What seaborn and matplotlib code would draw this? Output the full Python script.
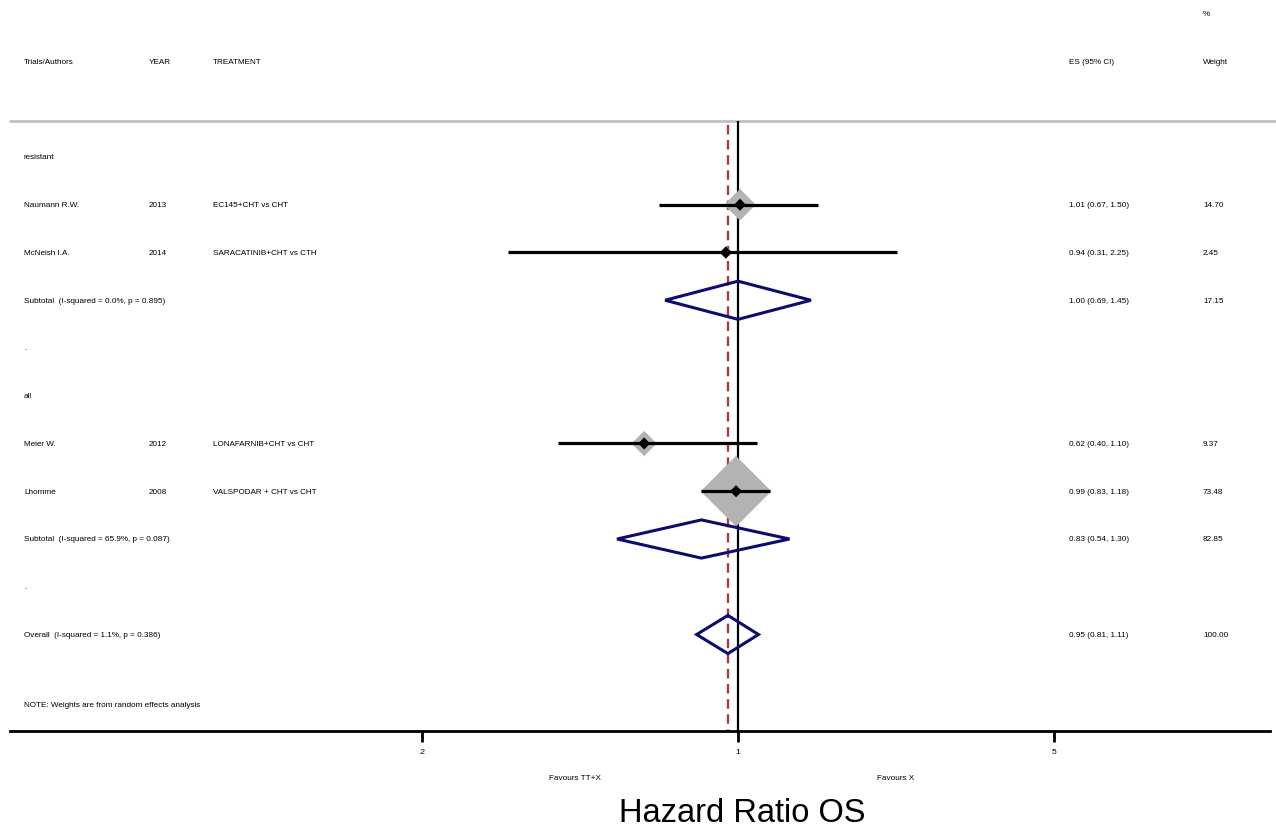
import numpy as np
import pandas as pd
import matplotlib
matplotlib.use("Agg")
import matplotlib.pyplot as plt
import matplotlib.transforms as mtransforms
import seaborn as sns

# study level data
authors = ["Naumann R.W.", "McNeish I.A.", "Meier W.", "Lhommè"]
years = ["2013", "2014", "2012", "2008"]
treatments = ["EC145+CHT vs CHT", "SARACATINIB+CHT vs CTH",
              "LONAFARNIB+CHT vs CHT", "VALSPODAR + CHT vs CHT"]
study_es = [1.01, 0.94, 0.62, 0.99]
study_lo = [0.67, 0.31, 0.40, 0.83]
study_hi = [1.50, 2.25, 1.10, 1.18]
study_wt = [14.70, 2.45, 9.37, 73.48]
study_row = [1, 2, 6, 7]

# pooled estimates (subtotals + overall)
pooled_labels = ["Subtotal  (I-squared = 0.0%, p = 0.895)",
                 "Subtotal  (I-squared = 65.9%, p = 0.087)",
                 "Overall  (I-squared = 1.1%, p = 0.386)"]
pooled_es = [1.00, 0.83, 0.95]
pooled_lo = [0.69, 0.54, 0.81]
pooled_hi = [1.45, 1.30, 1.11]
pooled_wt = [17.15, 82.85, 100.00]
pooled_row = [3, 8, 10]

group_labels = ["resistant", ".", "all", "."]
group_row = [0, 4, 5, 9]

overall_es = pooled_es[-1]
xticks = [0.2, 1, 5]
xtick_labels = [".2", "1", "5"]

df = pd.DataFrame({"es": study_es, "row": study_row, "wt": study_wt})

sns.set_style("white")
plt.rcParams['font.family'] = ['Liberation Sans', 'DejaVu Sans']
plt.rcParams['text.color'] = 'black'
plt.rcParams['xtick.color'] = 'black'

W, H = 1276, 831
fig = plt.figure(figsize=(W / 100, H / 100), dpi=100)
# axes spans the full drawing area, bottom spine is the x axis
ax = fig.add_axes([10 / W, (H - 731) / H, 1260 / W, 731 / H])
ax.set_xscale("log")
xl_lo = 10 ** ((10 - 738) / 452.0)
xl_hi = 10 ** ((1270 - 738) / 452.0)
ax.set_xlim(xl_lo, xl_hi)
row_h = 47.75
ax.set_ylim((731 - 157) / row_h, -157 / row_h)

for s in ["top", "left", "right"]:
    ax.spines[s].set_visible(False)
ax.spines["bottom"].set_linewidth(2)
ax.spines["bottom"].set_color("black")
ax.set_yticks([])
ax.set_xticks(xticks)
ax.set_xticklabels(xtick_labels, fontsize=6)
ax.xaxis.set_minor_locator(matplotlib.ticker.NullLocator())
ax.tick_params(axis="x", direction="out", length=8, width=2, pad=5, bottom=True,
               colors="black")

# header separator
ax.axhline(-0.75, color="#c0c0c0", lw=2, xmin=0, xmax=1.01, clip_on=False)

# null line and overall effect line
ax.vlines(1, -0.75, (731 - 157) / row_h, color="black", lw=1.6, zorder=2)
ax.vlines(overall_es, -0.68, (731 - 157) / row_h, color="#a83a44", lw=1.7,
          linestyles=(0, (4, 2.4)), zorder=2)

# gray weight boxes (area proportional to weight)
size_map = {w: (4.2 * np.sqrt(w)) ** 2 for w in study_wt}
sns.scatterplot(data=df, x="es", y="row", size="wt", sizes=size_map, marker="D",
                color="#b3b3b3", edgecolor="none", legend=False, ax=ax, zorder=3)

# confidence intervals
ax.hlines(study_row, study_lo, study_hi, color="black", lw=2.3, zorder=4)

# point estimates
sns.scatterplot(data=df, x="es", y="row", marker="D", s=38, color="black",
                edgecolor="none", legend=False, ax=ax, zorder=5)

# pooled diamonds
half = 0.4
for es, lo, hi, r in zip(pooled_es, pooled_lo, pooled_hi, pooled_row):
    ax.fill([lo, es, hi, es, lo], [r, r - half, r, r + half, r],
            facecolor="none", edgecolor="#0c0c6e", lw=2.2, zorder=4)

ax.set_xlabel("")
ax.set_ylabel("")

# text columns in axes-x / data-y coordinates
tr = mtransforms.blended_transform_factory(ax.transAxes, ax.transData)


def colx(px):
    return (px - 10) / 1260.0


fs = 5.9
va = "center_baseline"
hdr_row = (62 - 157) / row_h
pct_row = (14 - 157) / row_h
ax.text(colx(24), hdr_row, "Trials/Authors", transform=tr, fontsize=fs, va=va)
ax.text(colx(149), hdr_row, "YEAR", transform=tr, fontsize=fs, va=va)
ax.text(colx(213), hdr_row, "TREATMENT", transform=tr, fontsize=fs, va=va)
ax.text(colx(1069), hdr_row, "ES (95% CI)", transform=tr, fontsize=fs, va=va)
ax.text(colx(1203), hdr_row, "Weight", transform=tr, fontsize=fs, va=va)
ax.text(colx(1203), pct_row, "%", transform=tr, fontsize=fs, va=va)

for lab, r in zip(group_labels, group_row):
    ax.text(colx(24), r, lab, transform=tr, fontsize=fs, va=va)

for a, y, t, es, lo, hi, w, r in zip(authors, years, treatments, study_es,
                                     study_lo, study_hi, study_wt, study_row):
    ax.text(colx(24), r, a, transform=tr, fontsize=fs, va=va)
    ax.text(colx(149), r, y, transform=tr, fontsize=fs, va=va)
    ax.text(colx(213), r, t, transform=tr, fontsize=fs, va=va)
    ax.text(colx(1069), r, f"{es:.2f} ({lo:.2f}, {hi:.2f})", transform=tr,
            fontsize=fs, va=va)
    ax.text(colx(1203), r, f"{w:.2f}", transform=tr, fontsize=fs, va=va)

for lab, es, lo, hi, w, r in zip(pooled_labels, pooled_es, pooled_lo,
                                 pooled_hi, pooled_wt, pooled_row):
    ax.text(colx(24), r, lab, transform=tr, fontsize=fs, va=va)
    ax.text(colx(1069), r, f"{es:.2f} ({lo:.2f}, {hi:.2f})", transform=tr,
            fontsize=fs, va=va)
    ax.text(colx(1203), r, f"{w:.2f}", transform=tr, fontsize=fs, va=va)

ax.text(colx(24), (705 - 157) / row_h, "NOTE: Weights are from random effects analysis",
        transform=tr, fontsize=fs, va=va)

# favours labels and axis title (figure pixel coords)
fig.text(575 / W, 1 - 778 / H, "Favours TT+X", fontsize=fs, ha="center", va=va)
fig.text(896 / W, 1 - 778 / H, "Favours X", fontsize=fs, ha="center", va=va)
fig.text(742 / W, 1 - 813 / H, "Hazard Ratio OS", fontsize=23.5, ha="center", va="center")

fig.savefig("out.png", dpi=100, facecolor="white")
